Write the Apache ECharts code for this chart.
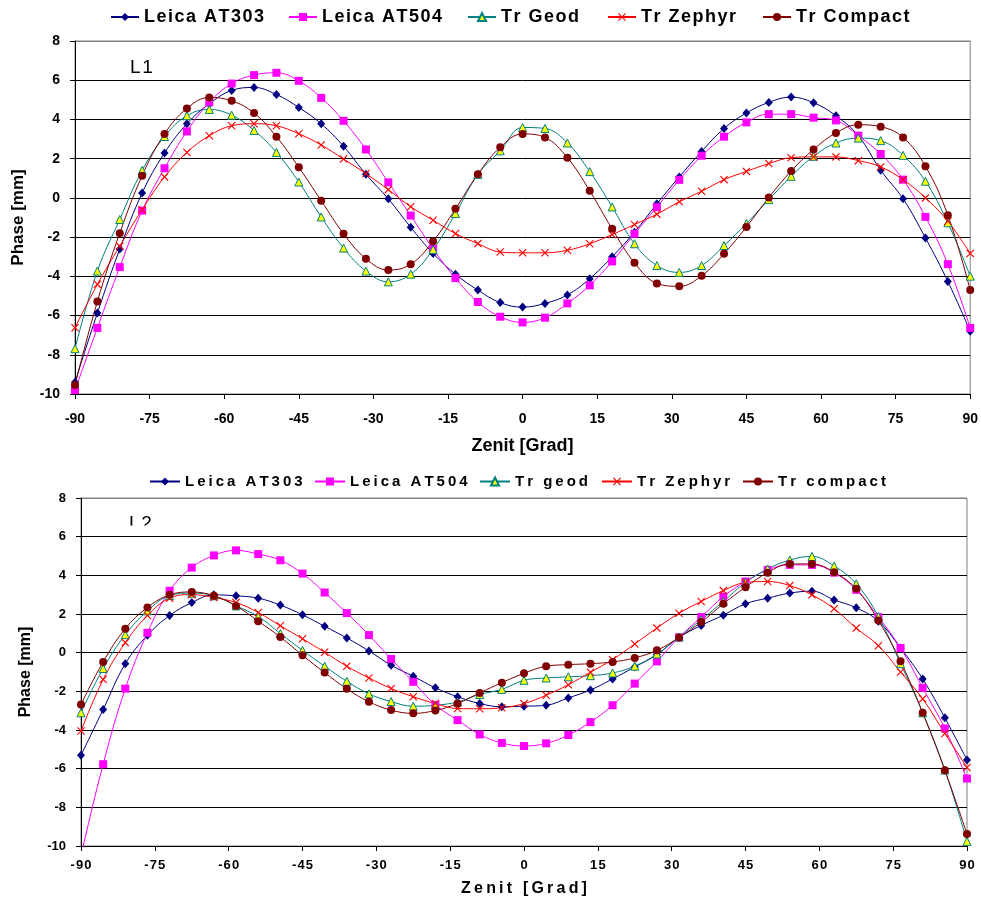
<!DOCTYPE html>
<html><head><meta charset="utf-8">
<script src="https://cdn.jsdelivr.net/npm/echarts@6/dist/echarts.min.js"></script>
<style>html,body{margin:0;padding:0;background:#fff}#c{width:981px;height:901px}</style>
</head><body><div id="c"></div>
<script>
const zenit = [-90,-85.5,-81,-76.5,-72,-67.5,-63,-58.5,-54,-49.5,-45,-40.5,-36,-31.5,-27,-22.5,-18,-13.5,-9,-4.5,0,4.5,9,13.5,18,22.5,27,31.5,36,40.5,45,49.5,54,58.5,63,67.5,72,76.5,81,85.5,90];
const xTicks = [-90,-75,-60,-45,-30,-15,0,15,30,45,60,75,90];
const yTicks = [-10,-8,-6,-4,-2,0,2,4,6,8];

// L1 (top panel)
const at303_L1 = [-9.4,-5.87,-2.61,0.25,2.29,3.78,4.8,5.48,5.63,5.27,4.61,3.78,2.63,1.2,-0.05,-1.5,-2.83,-3.89,-4.7,-5.34,-5.57,-5.38,-4.95,-4.12,-3.0,-1.75,-0.3,1.07,2.37,3.54,4.33,4.87,5.14,4.85,4.19,3.17,1.41,-0.05,-2.04,-4.26,-6.8];
const at504_L1 = [-9.8,-6.63,-3.53,-0.65,1.51,3.39,4.87,5.83,6.26,6.38,5.97,5.1,3.93,2.47,0.79,-0.9,-2.6,-4.09,-5.31,-6.06,-6.35,-6.11,-5.38,-4.46,-3.24,-1.83,-0.47,0.92,2.15,3.12,3.85,4.27,4.27,4.09,3.95,3.17,2.24,0.93,-0.97,-3.38,-6.63];
const geod_L1 = [-7.69,-3.73,-1.1,1.4,3.13,4.19,4.51,4.22,3.44,2.32,0.81,-0.97,-2.56,-3.73,-4.28,-3.89,-2.63,-0.8,1.2,2.4,3.59,3.54,2.8,1.34,-0.46,-2.34,-3.45,-3.8,-3.45,-2.43,-1.31,-0.09,1.1,2.12,2.8,3.05,2.92,2.17,0.85,-1.27,-3.99];
const zephyr_L1 = [-6.62,-4.41,-2.46,-0.6,1.07,2.32,3.17,3.68,3.78,3.68,3.27,2.7,1.98,1.24,0.42,-0.45,-1.14,-1.82,-2.33,-2.76,-2.8,-2.8,-2.67,-2.34,-1.87,-1.36,-0.83,-0.2,0.34,0.93,1.35,1.75,2.05,2.09,2.09,1.9,1.58,0.93,0.0,-1.19,-2.83];
const compact_L1 = [-9.54,-5.28,-1.8,1.13,3.26,4.56,5.12,4.95,4.33,3.12,1.56,-0.14,-1.83,-3.1,-3.68,-3.38,-2.21,-0.56,1.2,2.58,3.26,3.08,2.05,0.36,-1.58,-3.31,-4.36,-4.51,-3.97,-2.85,-1.48,0.02,1.37,2.47,3.31,3.73,3.63,3.08,1.61,-0.88,-4.7];

// L2 (bottom panel)
const at303_L2 = [-5.31,-2.94,-0.57,0.9,1.92,2.59,2.99,2.94,2.82,2.46,1.96,1.36,0.76,0.09,-0.65,-1.22,-1.82,-2.28,-2.63,-2.8,-2.77,-2.72,-2.34,-1.93,-1.36,-0.74,-0.1,0.79,1.41,1.94,2.53,2.82,3.08,3.18,2.73,2.32,1.63,0.24,-1.36,-3.37,-5.55];
const at504_L2 = [-10.5,-5.77,-1.86,1.03,3.2,4.4,5.03,5.29,5.1,4.78,4.09,3.11,2.05,0.91,-0.33,-1.51,-2.7,-3.49,-4.23,-4.67,-4.83,-4.69,-4.26,-3.59,-2.72,-1.6,-0.45,0.79,1.84,2.9,3.68,4.28,4.54,4.54,4.14,3.25,1.84,0.24,-1.82,-3.92,-6.51];
const geod_L2 = [-3.11,-0.82,0.93,2.16,2.95,3.08,2.94,2.42,1.87,0.99,0.12,-0.7,-1.48,-2.13,-2.53,-2.77,-2.72,-2.55,-2.16,-1.9,-1.43,-1.31,-1.25,-1.19,-1.05,-0.7,-0.07,0.81,1.7,2.65,3.63,4.33,4.79,4.98,4.48,3.56,1.87,-0.57,-3.11,-6.07,-9.76];
const zephyr_L2 = [-4.05,-1.39,0.52,1.92,2.82,3.0,2.85,2.59,2.08,1.39,0.72,0.02,-0.7,-1.31,-1.85,-2.28,-2.63,-2.89,-2.9,-2.85,-2.63,-2.2,-1.66,-1.01,-0.36,0.45,1.27,2.04,2.65,3.21,3.63,3.68,3.47,2.99,2.27,1.27,0.36,-1.0,-2.39,-4.18,-5.94];
const compact_L2 = [-2.68,-0.48,1.24,2.34,2.99,3.14,2.94,2.42,1.63,0.81,-0.14,-1.03,-1.87,-2.54,-2.97,-3.14,-2.99,-2.63,-2.08,-1.55,-1.07,-0.7,-0.62,-0.57,-0.48,-0.27,0.12,0.79,1.58,2.53,3.39,4.14,4.59,4.59,4.16,3.3,1.66,-0.45,-3.11,-6.08,-9.38];

const namesTop = ['Leica AT303','Leica AT504','Tr Geod','Tr Zephyr','Tr Compact'];
const namesBot = ['Leica AT303','Leica AT504','Tr geod','Tr Zephyr','Tr compact'];

const FONT = 'Arial, "Liberation Sans", Helvetica, sans-serif';
const XPATH = 'path://M0,1L1,0L5,4L9,0L10,1L6,5L10,9L9,10L5,6L1,10L0,9L4,5Z';
const sty = [
  {line:'#000080', fill:'#000080', border:'#000080', symbol:'diamond', size:[8,9]},
  {line:'#FF00FF', fill:'#FF00FF', border:'#FF00FF', symbol:'rect', size:8},
  {line:'#008080', fill:'#FFFF00', border:'#008080', symbol:'triangle', size:8},
  {line:'#FF0000', fill:'#FF0000', border:'#FF0000', symbol:XPATH, size:8},
  {line:'#800000', fill:'#800000', border:'#800000', symbol:'circle', size:8}
];
const spaced = s => s.split('').join('\u2009');
const hair = s => s.split('').join('\u200A');

function mk(name, ys, k, idx){
  const s = sty[k];
  return {
    type:'line', name, xAxisIndex:idx, yAxisIndex:idx,
    data: zenit.map((x,i)=>[x, ys[i]]),
    smooth:0.4, clip:true, symbol:s.symbol, symbolSize:s.size,
    showAllSymbol:true, animation:false,
    lineStyle:{color:s.line, width:1},
    itemStyle:{color:s.fill, borderColor:s.border, borderWidth: k===2?1:0},
    emphasis:{disabled:true}
  };
}
const series = [
  mk(namesTop[0], at303_L1, 0, 0), mk(namesTop[1], at504_L1, 1, 0), mk(namesTop[2], geod_L1, 2, 0),
  mk(namesTop[3], zephyr_L1, 3, 0), mk(namesTop[4], compact_L1, 4, 0),
  mk(namesBot[0], at303_L2, 0, 1), mk(namesBot[1], at504_L2, 1, 1), mk(namesBot[2], geod_L2, 2, 1),
  mk(namesBot[3], zephyr_L2, 3, 1), mk(namesBot[4], compact_L2, 4, 1)
];

const legTopX = [110, 288, 467, 607, 762];
const legBotX = [149, 314, 479, 601, 742];
const legends = [];
namesTop.forEach((n,i)=>legends.push({data:[n], left:legTopX[i], top:8, padding:0, itemWidth:28, itemHeight:10,
  formatter: t=>hair(t),
  textStyle:{fontFamily:FONT, fontSize:18, fontWeight:'bold', color:'#000'}, selectedMode:false}));
namesBot.forEach((n,i)=>legends.push({data:[n], left:legBotX[i], top:474, padding:0, itemWidth:30, itemHeight:10,
  formatter: t=>spaced(t),
  textStyle:{fontFamily:FONT, fontSize:15, fontWeight:'bold', color:'#000'}, selectedMode:false}));

function xAx(idx, labelSize, margin, nameSize, nameGap, sp){
  return {type:'value', gridIndex:idx, min:xTicks[0], max:xTicks[xTicks.length-1], interval:15,
    axisLine:{show:true, onZero:false, lineStyle:{color:'#000', width:1}},
    axisTick:{show:true, length:5, lineStyle:{color:'#000'}},
    axisLabel:{fontFamily:FONT, fontSize:labelSize, fontWeight:'bold', color:'#000', margin:margin,
      formatter: v=> sp? hair(String(v)) : String(v)},
    splitLine:{show:false},
    name: sp? spaced('Zenit [Grad]') : 'Zenit [Grad]', nameLocation:'middle', nameGap:nameGap,
    nameTextStyle:{fontFamily:FONT, fontSize:nameSize, fontWeight:'bold', color:'#000'}};
}
function yAx(idx, labelSize, margin, nameSize, nameGap){
  const cols = yTicks.map((v,i)=> i===yTicks.length-1 ? '#808080' : '#000');
  return {type:'value', gridIndex:idx, min:yTicks[0], max:yTicks[yTicks.length-1], interval:2,
    axisLine:{show:true, onZero:false, lineStyle:{color:'#000', width:1}},
    axisTick:{show:true, length:5, lineStyle:{color:'#000'}},
    axisLabel:{fontFamily:FONT, fontSize:labelSize, fontWeight:'bold', color:'#000', margin:margin},
    splitLine:{show:true, lineStyle:{color:cols, width:1}},
    name:'Phase [mm]', nameLocation:'middle', nameGap:nameGap,
    nameTextStyle:{fontFamily:FONT, fontSize:nameSize, fontWeight:'bold', color:'#000'}};
}

const option = {
  animation:false,
  backgroundColor:'#fff',
  grid:[
    {left:75, right:10, top:41, height:353, show:true, borderColor:'#808080', borderWidth:1, backgroundColor:'#fff'},
    {left:81, right:14, top:498, height:348, show:true, borderColor:'#808080', borderWidth:1, backgroundColor:'#fff'}
  ],
  xAxis:[xAx(0,14,18,18,43,false), xAx(1,13,13,16,35,true)],
  yAxis:[yAx(0,14,15,17,48), yAx(1,13,15,16,47)],
  legend: legends,
  graphic:[
    {type:'text', left:130, top:58, z:50, style:{text:hair('L1'), font:'19px '+FONT, fill:'#000'}},
    {type:'text', left:129, top:514, z:50, style:{text:hair('L2'), font:'19px '+FONT, fill:'#000'}},
    {type:'rect', left:120, top:525.5, z:51, shape:{width:45, height:10}, style:{fill:'#fff'}}
  ],
  series
};
const chart = echarts.init(document.getElementById('c'), null, {renderer:'canvas'});
chart.setOption(option);
</script></body></html>
